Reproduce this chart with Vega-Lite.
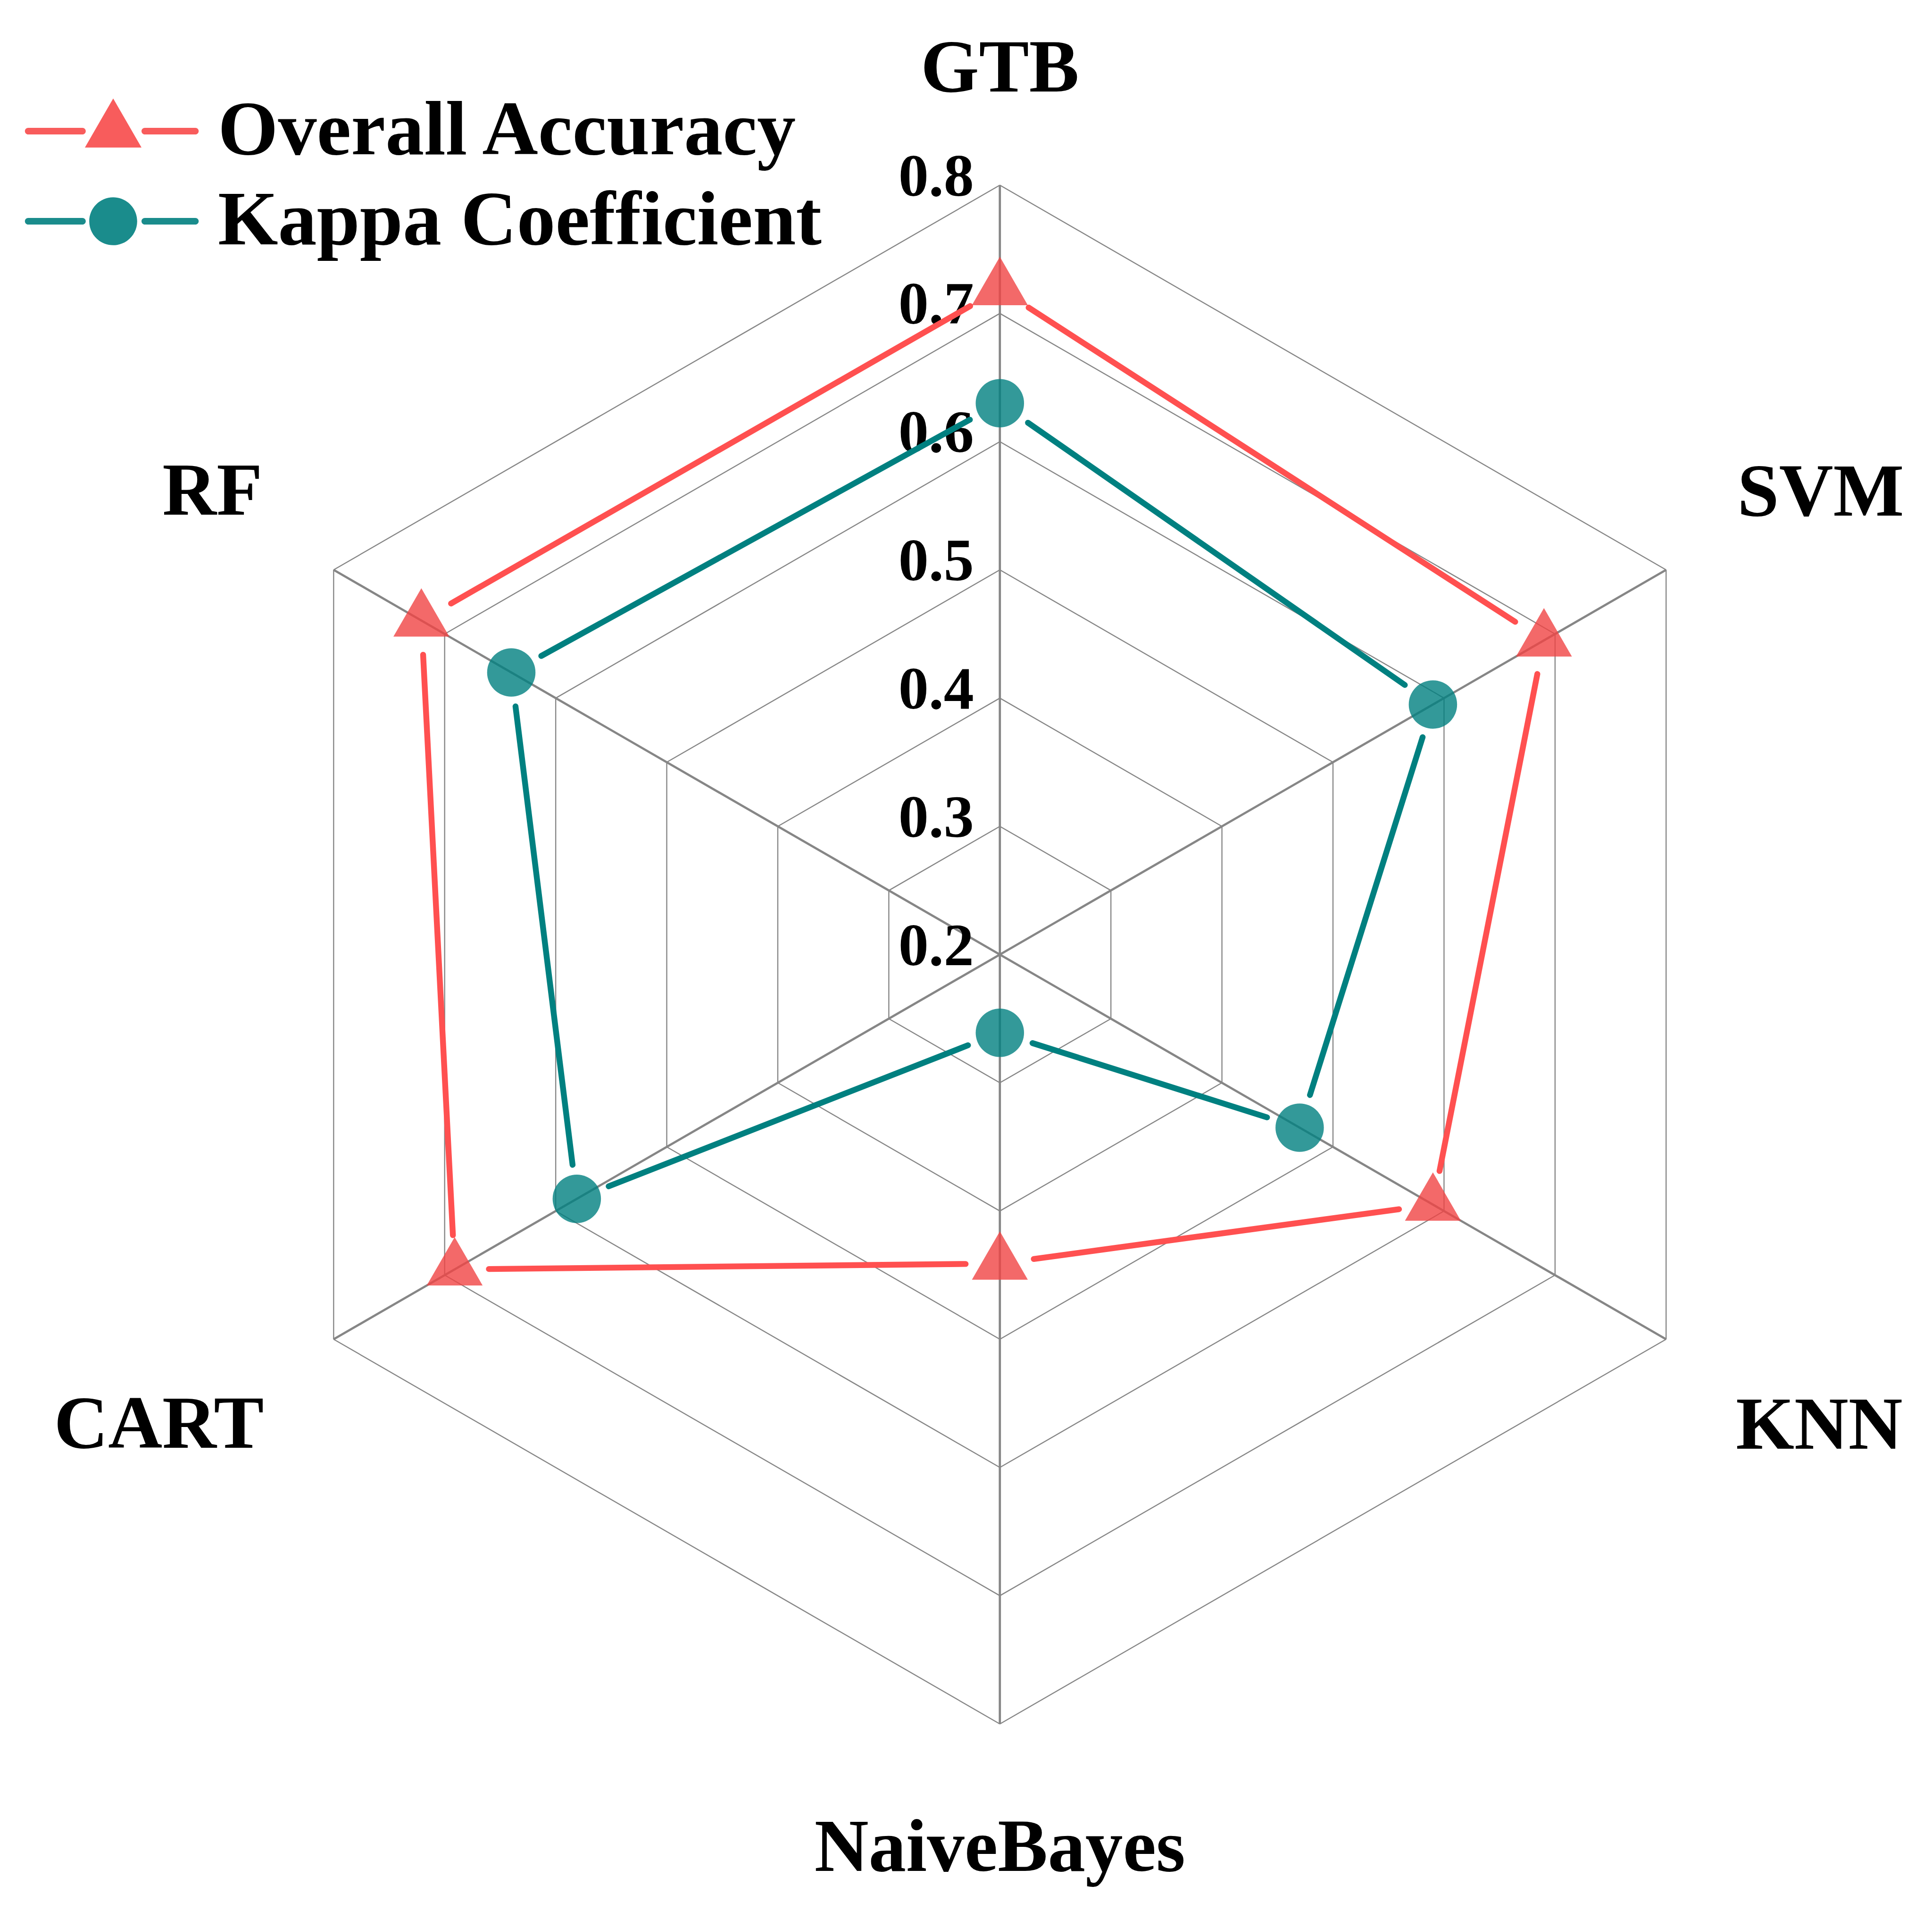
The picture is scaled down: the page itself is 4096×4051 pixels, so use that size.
{
  "$schema": "https://vega.github.io/schema/vega-lite/v6.json",
  "width": 4096,
  "height": 4051,
  "autosize": {"type": "none"},
  "padding": 0,
  "background": "white",
  "config": {
    "view": {"stroke": null},
    "legend": {
      "orient": "none",
      "legendX": 158,
      "legendY": 196,
      "padding": 0,
      "labelFont": "Liberation Serif",
      "labelFontWeight": "bold",
      "labelFontSize": 164,
      "labelColor": "#000000",
      "labelLimit": 4000,
      "labelOffset": 140,
      "labelBaseline": "middle",
      "symbolOffset": 0,
      "symbolSize": 14400,
      "symbolStrokeWidth": 0,
      "symbolOpacity": 1,
      "rowPadding": 27
    }
  },
  "datasets": {
    "scores": [
      {"model": "GTB", "series": "Overall Accuracy", "value": 0.719},
      {"model": "SVM", "series": "Overall Accuracy", "value": 0.690},
      {"model": "KNN", "series": "Overall Accuracy", "value": 0.590},
      {"model": "NaiveBayes", "series": "Overall Accuracy", "value": 0.441},
      {"model": "CART", "series": "Overall Accuracy", "value": 0.691},
      {"model": "RF", "series": "Overall Accuracy", "value": 0.721},
      {"model": "GTB", "series": "Kappa Coefficient", "value": 0.630},
      {"model": "SVM", "series": "Kappa Coefficient", "value": 0.590},
      {"model": "KNN", "series": "Kappa Coefficient", "value": 0.470},
      {"model": "NaiveBayes", "series": "Kappa Coefficient", "value": 0.261},
      {"model": "CART", "series": "Kappa Coefficient", "value": 0.581},
      {"model": "RF", "series": "Kappa Coefficient", "value": 0.640}
    ],
    "models": [
      {"model": "GTB"}, {"model": "SVM"}, {"model": "KNN"},
      {"model": "NaiveBayes"}, {"model": "CART"}, {"model": "RF"}
    ],
    "levels": [
      {"level": 0.2}, {"level": 0.3}, {"level": 0.4}, {"level": 0.5},
      {"level": 0.6}, {"level": 0.7}, {"level": 0.8}
    ],
    "rings": [
      {"level": 0.3, "model": "GTB"}, {"level": 0.3, "model": "SVM"}, {"level": 0.3, "model": "KNN"}, {"level": 0.3, "model": "NaiveBayes"}, {"level": 0.3, "model": "CART"}, {"level": 0.3, "model": "RF"},
      {"level": 0.4, "model": "GTB"}, {"level": 0.4, "model": "SVM"}, {"level": 0.4, "model": "KNN"}, {"level": 0.4, "model": "NaiveBayes"}, {"level": 0.4, "model": "CART"}, {"level": 0.4, "model": "RF"},
      {"level": 0.5, "model": "GTB"}, {"level": 0.5, "model": "SVM"}, {"level": 0.5, "model": "KNN"}, {"level": 0.5, "model": "NaiveBayes"}, {"level": 0.5, "model": "CART"}, {"level": 0.5, "model": "RF"},
      {"level": 0.6, "model": "GTB"}, {"level": 0.6, "model": "SVM"}, {"level": 0.6, "model": "KNN"}, {"level": 0.6, "model": "NaiveBayes"}, {"level": 0.6, "model": "CART"}, {"level": 0.6, "model": "RF"},
      {"level": 0.7, "model": "GTB"}, {"level": 0.7, "model": "SVM"}, {"level": 0.7, "model": "KNN"}, {"level": 0.7, "model": "NaiveBayes"}, {"level": 0.7, "model": "CART"}, {"level": 0.7, "model": "RF"},
      {"level": 0.8, "model": "GTB"}, {"level": 0.8, "model": "SVM"}, {"level": 0.8, "model": "KNN"}, {"level": 0.8, "model": "NaiveBayes"}, {"level": 0.8, "model": "CART"}, {"level": 0.8, "model": "RF"}
    ]
  },
  "layer": [
    {
      "data": {"name": "rings"},
      "transform": [
        {"calculate": "indexof(['GTB','SVM','KNN','NaiveBayes','CART','RF'], datum.model)", "as": "idx"},
        {"calculate": "(datum.level - 0.2) * sin(datum.idx * PI / 3)", "as": "ax"},
        {"calculate": "(datum.level - 0.2) * cos(datum.idx * PI / 3)", "as": "ay"},
        {"calculate": "(datum.level - 0.2) * sin((datum.idx + 1) * PI / 3)", "as": "bx"},
        {"calculate": "(datum.level - 0.2) * cos((datum.idx + 1) * PI / 3)", "as": "by"}
      ],
      "mark": {"type": "rule", "stroke": "#868686", "strokeWidth": 2.4},
      "encoding": {
        "x": {"field": "ax", "type": "quantitative", "scale": {"domain": [-0.77982, 0.727], "nice": false, "zero": false}, "axis": null},
        "y": {"field": "ay", "type": "quantitative", "scale": {"domain": [-0.74587, 0.7444], "nice": false, "zero": false}, "axis": null},
        "x2": {"field": "bx"},
        "y2": {"field": "by"}
      }
    },
    {
      "data": {"name": "models"},
      "transform": [
        {"calculate": "indexof(['GTB','SVM','KNN','NaiveBayes','CART','RF'], datum.model)", "as": "idx"},
        {"calculate": "0", "as": "ox"},
        {"calculate": "0.6 * sin(datum.idx * PI / 3)", "as": "ex"},
        {"calculate": "0.6 * cos(datum.idx * PI / 3)", "as": "ey"}
      ],
      "mark": {"type": "rule", "stroke": "#868686", "strokeWidth": 4.7},
      "encoding": {
        "x": {"field": "ox", "type": "quantitative", "scale": {"domain": [-0.77982, 0.727], "nice": false, "zero": false}, "axis": null},
        "y": {"field": "ox", "type": "quantitative", "scale": {"domain": [-0.74587, 0.7444], "nice": false, "zero": false}, "axis": null},
        "x2": {"field": "ex"},
        "y2": {"field": "ey"}
      }
    },
    {
      "data": {"name": "levels"},
      "transform": [
        {"calculate": "0", "as": "ox"},
        {"calculate": "datum.level - 0.2", "as": "ry"}
      ],
      "mark": {"type": "text", "align": "right", "baseline": "alphabetic", "dx": -55, "dy": 22, "font": "Liberation Serif", "fontWeight": "bold", "fontSize": 128, "color": "#000000"},
      "encoding": {
        "x": {"field": "ox", "type": "quantitative", "scale": {"domain": [-0.77982, 0.727], "nice": false, "zero": false}, "axis": null},
        "y": {"field": "ry", "type": "quantitative", "scale": {"domain": [-0.74587, 0.7444], "nice": false, "zero": false}, "axis": null},
        "text": {"field": "level", "type": "quantitative", "format": ".1f"}
      }
    },
    {
      "data": {"name": "models"},
      "transform": [
        {"filter": "datum.model === 'GTB'"},
        {"calculate": "indexof(['GTB','SVM','KNN','NaiveBayes','CART','RF'], datum.model)", "as": "idx"},
        {"calculate": "0.6 * sin(datum.idx * PI / 3)", "as": "ex"},
        {"calculate": "0.6 * cos(datum.idx * PI / 3)", "as": "ey"}
      ],
      "mark": {"type": "text", "align": "center", "baseline": "alphabetic", "dx": 0, "dy": -199, "font": "Liberation Serif", "fontWeight": "bold", "fontSize": 159, "color": "#000000"},
      "encoding": {
        "x": {"field": "ex", "type": "quantitative", "scale": {"domain": [-0.77982, 0.727], "nice": false, "zero": false}, "axis": null},
        "y": {"field": "ey", "type": "quantitative", "scale": {"domain": [-0.74587, 0.7444], "nice": false, "zero": false}, "axis": null},
        "text": {"field": "model"}
      }
    },
    {
      "data": {"name": "models"},
      "transform": [
        {"filter": "datum.model === 'SVM'"},
        {"calculate": "indexof(['GTB','SVM','KNN','NaiveBayes','CART','RF'], datum.model)", "as": "idx"},
        {"calculate": "0.6 * sin(datum.idx * PI / 3)", "as": "ex"},
        {"calculate": "0.6 * cos(datum.idx * PI / 3)", "as": "ey"}
      ],
      "mark": {"type": "text", "align": "left", "baseline": "alphabetic", "dx": 151, "dy": -115, "font": "Liberation Serif", "fontWeight": "bold", "fontSize": 159, "color": "#000000"},
      "encoding": {
        "x": {"field": "ex", "type": "quantitative", "scale": {"domain": [-0.77982, 0.727], "nice": false, "zero": false}, "axis": null},
        "y": {"field": "ey", "type": "quantitative", "scale": {"domain": [-0.74587, 0.7444], "nice": false, "zero": false}, "axis": null},
        "text": {"field": "model"}
      }
    },
    {
      "data": {"name": "models"},
      "transform": [
        {"filter": "datum.model === 'KNN'"},
        {"calculate": "indexof(['GTB','SVM','KNN','NaiveBayes','CART','RF'], datum.model)", "as": "idx"},
        {"calculate": "0.6 * sin(datum.idx * PI / 3)", "as": "ex"},
        {"calculate": "0.6 * cos(datum.idx * PI / 3)", "as": "ey"}
      ],
      "mark": {"type": "text", "align": "left", "baseline": "alphabetic", "dx": 148, "dy": 232, "font": "Liberation Serif", "fontWeight": "bold", "fontSize": 159, "color": "#000000"},
      "encoding": {
        "x": {"field": "ex", "type": "quantitative", "scale": {"domain": [-0.77982, 0.727], "nice": false, "zero": false}, "axis": null},
        "y": {"field": "ey", "type": "quantitative", "scale": {"domain": [-0.74587, 0.7444], "nice": false, "zero": false}, "axis": null},
        "text": {"field": "model"}
      }
    },
    {
      "data": {"name": "models"},
      "transform": [
        {"filter": "datum.model === 'NaiveBayes'"},
        {"calculate": "indexof(['GTB','SVM','KNN','NaiveBayes','CART','RF'], datum.model)", "as": "idx"},
        {"calculate": "0.6 * sin(datum.idx * PI / 3)", "as": "ex"},
        {"calculate": "0.6 * cos(datum.idx * PI / 3)", "as": "ey"}
      ],
      "mark": {"type": "text", "align": "center", "baseline": "alphabetic", "dx": 0, "dy": 312, "font": "Liberation Serif", "fontWeight": "bold", "fontSize": 159, "color": "#000000"},
      "encoding": {
        "x": {"field": "ex", "type": "quantitative", "scale": {"domain": [-0.77982, 0.727], "nice": false, "zero": false}, "axis": null},
        "y": {"field": "ey", "type": "quantitative", "scale": {"domain": [-0.74587, 0.7444], "nice": false, "zero": false}, "axis": null},
        "text": {"field": "model"}
      }
    },
    {
      "data": {"name": "models"},
      "transform": [
        {"filter": "datum.model === 'CART'"},
        {"calculate": "indexof(['GTB','SVM','KNN','NaiveBayes','CART','RF'], datum.model)", "as": "idx"},
        {"calculate": "0.6 * sin(datum.idx * PI / 3)", "as": "ex"},
        {"calculate": "0.6 * cos(datum.idx * PI / 3)", "as": "ey"}
      ],
      "mark": {"type": "text", "align": "right", "baseline": "alphabetic", "dx": -148, "dy": 230, "font": "Liberation Serif", "fontWeight": "bold", "fontSize": 159, "color": "#000000"},
      "encoding": {
        "x": {"field": "ex", "type": "quantitative", "scale": {"domain": [-0.77982, 0.727], "nice": false, "zero": false}, "axis": null},
        "y": {"field": "ey", "type": "quantitative", "scale": {"domain": [-0.74587, 0.7444], "nice": false, "zero": false}, "axis": null},
        "text": {"field": "model"}
      }
    },
    {
      "data": {"name": "models"},
      "transform": [
        {"filter": "datum.model === 'RF'"},
        {"calculate": "indexof(['GTB','SVM','KNN','NaiveBayes','CART','RF'], datum.model)", "as": "idx"},
        {"calculate": "0.6 * sin(datum.idx * PI / 3)", "as": "ex"},
        {"calculate": "0.6 * cos(datum.idx * PI / 3)", "as": "ey"}
      ],
      "mark": {"type": "text", "align": "right", "baseline": "alphabetic", "dx": -151, "dy": -117, "font": "Liberation Serif", "fontWeight": "bold", "fontSize": 159, "color": "#000000"},
      "encoding": {
        "x": {"field": "ex", "type": "quantitative", "scale": {"domain": [-0.77982, 0.727], "nice": false, "zero": false}, "axis": null},
        "y": {"field": "ey", "type": "quantitative", "scale": {"domain": [-0.74587, 0.7444], "nice": false, "zero": false}, "axis": null},
        "text": {"field": "model"}
      }
    },
    {
      "data": {"name": "scores"},
      "transform": [
        {"calculate": "indexof(['GTB','SVM','KNN','NaiveBayes','CART','RF'], datum.model)", "as": "idx"},
        {"calculate": "(datum.value - 0.2) * sin(datum.idx * PI / 3)", "as": "px"},
        {"calculate": "(datum.value - 0.2) * cos(datum.idx * PI / 3)", "as": "py"},
        {
          "window": [
            {"op": "lead", "field": "px", "as": "nx"},
            {"op": "lead", "field": "py", "as": "ny"},
            {"op": "first_value", "field": "px", "as": "fx"},
            {"op": "first_value", "field": "py", "as": "fy"}
          ],
          "sort": [{"field": "idx", "order": "ascending"}],
          "groupby": ["series"],
          "frame": [null, null]
        },
        {"calculate": "isValid(datum.nx) ? datum.nx : datum.fx", "as": "qx"},
        {"calculate": "isValid(datum.ny) ? datum.ny : datum.fy", "as": "qy"},
        {"calculate": "sqrt(pow(datum.qx - datum.px, 2) + pow(datum.qy - datum.py, 2))", "as": "len"},
        {"calculate": "datum.px + (datum.qx - datum.px) * 0.0267 / datum.len", "as": "sx"},
        {"calculate": "datum.py + (datum.qy - datum.py) * 0.0267 / datum.len", "as": "sy"},
        {"calculate": "datum.qx - (datum.qx - datum.px) * 0.0267 / datum.len", "as": "tx"},
        {"calculate": "datum.qy - (datum.qy - datum.py) * 0.0267 / datum.len", "as": "ty"}
      ],
      "mark": {"type": "rule", "strokeWidth": 12.4, "strokeCap": "round"},
      "encoding": {
        "x": {"field": "sx", "type": "quantitative", "scale": {"domain": [-0.77982, 0.727], "nice": false, "zero": false}, "axis": null},
        "y": {"field": "sy", "type": "quantitative", "scale": {"domain": [-0.74587, 0.7444], "nice": false, "zero": false}, "axis": null},
        "x2": {"field": "tx"},
        "y2": {"field": "ty"},
        "stroke": {"condition": {"test": "datum.series === 'Overall Accuracy'", "value": "#FF5050"}, "value": "#008080"}
      }
    },
    {
      "data": {"name": "scores"},
      "transform": [
        {"calculate": "indexof(['GTB','SVM','KNN','NaiveBayes','CART','RF'], datum.model)", "as": "idx"},
        {"calculate": "(datum.value - 0.2) * sin(datum.idx * PI / 3)", "as": "px"},
        {"calculate": "(datum.value - 0.2) * cos(datum.idx * PI / 3)", "as": "py"}
      ],
      "mark": {"type": "point", "filled": true, "opacity": 1, "fillOpacity": 0.8, "strokeWidth": 0},
      "encoding": {
        "x": {"field": "px", "type": "quantitative", "scale": {"domain": [-0.77982, 0.727], "nice": false, "zero": false}, "axis": null},
        "y": {"field": "py", "type": "quantitative", "scale": {"domain": [-0.74587, 0.7444], "nice": false, "zero": false}, "axis": null},
        "shape": {"condition": {"test": "datum.series === 'Overall Accuracy'", "value": "M0,-1.1547L1,0.5774L-1,0.5774Z"}, "value": "circle"},
        "size": {"condition": {"test": "datum.series === 'Overall Accuracy'", "value": 14042}, "value": 10506},
        "fill": {"condition": {"test": "datum.series === 'Overall Accuracy'", "value": "#F04444"}, "value": "#008080"}
      }
    },
    {
      "data": {"name": "scores"},
      "transform": [{"filter": "false"}],
      "mark": {"type": "point", "filled": true, "opacity": 1},
      "encoding": {
        "shape": {
          "field": "series",
          "type": "nominal",
          "scale": {
            "domain": ["Overall Accuracy", "Kappa Coefficient"],
            "range": [
              "M0,-1.1547L1,0.5774L-1,0.5774Z M-3.003,-0.117L-1.087,-0.117A0.117,0.117 0 0 1 -1.087,0.117L-3.003,0.117A0.117,0.117 0 0 1 -3.003,-0.117Z M1.117,-0.117L2.903,-0.117A0.117,0.117 0 0 1 2.903,0.117L1.117,0.117A0.117,0.117 0 0 1 1.117,-0.117Z",
              "M0.847,0A0.847,0.847 0 1 1 -0.847,0A0.847,0.847 0 1 1 0.847,0Z M-3.003,-0.117L-1.087,-0.117A0.117,0.117 0 0 1 -1.087,0.117L-3.003,0.117A0.117,0.117 0 0 1 -3.003,-0.117Z M1.117,-0.117L2.903,-0.117A0.117,0.117 0 0 1 2.903,0.117L1.117,0.117A0.117,0.117 0 0 1 1.117,-0.117Z"
            ]
          },
          "legend": {"title": null}
        },
        "color": {
          "field": "series",
          "type": "nominal",
          "scale": {"domain": ["Overall Accuracy", "Kappa Coefficient"], "range": ["#F85C5C", "#1A8C8C"]},
          "legend": {"title": null}
        }
      }
    }
  ]
}
